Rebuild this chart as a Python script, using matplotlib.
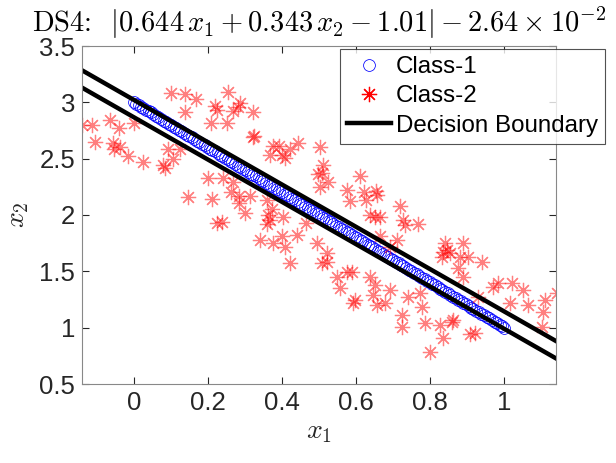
import numpy as np
import matplotlib.pyplot as plt

plt.rcParams['font.family'] = ['Liberation Sans', 'DejaVu Sans']
plt.rcParams['mathtext.fontset'] = 'cm'

# Class-1: points on the band (x1, x2)
c1_x1 = [0.000, 0.006, 0.013, 0.019, 0.024, 0.033, 0.040, 0.045, 0.052, 0.061,
         0.066, 0.072, 0.081, 0.088, 0.094, 0.101, 0.108, 0.115, 0.122, 0.127,
         0.136, 0.143, 0.149, 0.156, 0.163, 0.170, 0.176, 0.184, 0.191, 0.197,
         0.205, 0.211, 0.218, 0.226, 0.232, 0.239, 0.246, 0.253, 0.260, 0.266,
         0.274, 0.281, 0.287, 0.295, 0.302, 0.308, 0.316, 0.323, 0.329, 0.337,
         0.344, 0.350, 0.358, 0.365, 0.371, 0.379, 0.386, 0.392, 0.400, 0.407,
         0.413, 0.421, 0.428, 0.434, 0.442, 0.449, 0.455, 0.463, 0.470, 0.476,
         0.484, 0.491, 0.497, 0.505, 0.512, 0.518, 0.526, 0.533, 0.539, 0.547,
         0.554, 0.560, 0.568, 0.575, 0.581, 0.589, 0.596, 0.602, 0.610, 0.617,
         0.623, 0.631, 0.638, 0.644, 0.652, 0.659, 0.665, 0.673, 0.680, 0.686,
         0.694, 0.701, 0.707, 0.715, 0.722, 0.728, 0.736, 0.743, 0.749, 0.757,
         0.764, 0.770, 0.778, 0.785, 0.791, 0.799, 0.806, 0.812, 0.820, 0.827,
         0.833, 0.841, 0.848, 0.854, 0.862, 0.869, 0.875, 0.883, 0.890, 0.896,
         0.904, 0.911, 0.917, 0.925, 0.932, 0.938, 0.946, 0.953, 0.959, 0.967,
         0.974, 0.980, 0.988, 0.994, 1.000]
c1_x2 = [3.000, 2.988, 2.974, 2.962, 2.952, 2.934, 2.920, 2.910, 2.896, 2.878,
         2.868, 2.856, 2.838, 2.824, 2.812, 2.798, 2.784, 2.770, 2.756, 2.746,
         2.728, 2.714, 2.702, 2.688, 2.674, 2.660, 2.648, 2.632, 2.618, 2.606,
         2.590, 2.578, 2.564, 2.548, 2.536, 2.522, 2.508, 2.494, 2.480, 2.468,
         2.452, 2.438, 2.426, 2.410, 2.396, 2.384, 2.368, 2.354, 2.342, 2.326,
         2.312, 2.300, 2.284, 2.270, 2.258, 2.242, 2.228, 2.216, 2.200, 2.186,
         2.174, 2.158, 2.144, 2.132, 2.116, 2.102, 2.090, 2.074, 2.060, 2.048,
         2.032, 2.018, 2.006, 1.990, 1.976, 1.964, 1.948, 1.934, 1.922, 1.906,
         1.892, 1.880, 1.864, 1.850, 1.838, 1.822, 1.808, 1.796, 1.780, 1.766,
         1.754, 1.738, 1.724, 1.712, 1.696, 1.682, 1.670, 1.654, 1.640, 1.628,
         1.612, 1.598, 1.586, 1.570, 1.556, 1.544, 1.528, 1.514, 1.502, 1.486,
         1.472, 1.460, 1.444, 1.430, 1.418, 1.402, 1.388, 1.376, 1.360, 1.346,
         1.334, 1.318, 1.304, 1.292, 1.276, 1.262, 1.250, 1.234, 1.220, 1.208,
         1.192, 1.178, 1.166, 1.150, 1.136, 1.124, 1.108, 1.094, 1.082, 1.066,
         1.052, 1.040, 1.024, 1.012, 1.000]

# Class-2: scattered points
c2_x1 = [-0.141, -0.114, -0.065, -0.041, 0.000, -0.105, -0.057, -0.054, -0.038, -0.016,
         0.024, 0.078, 0.084, 0.092, 0.105, 0.124, 0.100, 0.138, 0.168, 0.138,
         0.208, 0.224, 0.219, 0.251, 0.254, 0.268, 0.286, 0.281, 0.322, 0.322,
         0.324, 0.200, 0.241, 0.268, 0.146, 0.211, 0.262, 0.284, 0.284, 0.314,
         0.224, 0.238, 0.376, 0.392, 0.368, 0.400, 0.408, 0.422, 0.443, 0.503,
         0.511, 0.497, 0.508, 0.524, 0.503, 0.611, 0.576, 0.584, 0.622, 0.654,
         0.657, 0.627, 0.719, 0.638, 0.651, 0.665, 0.727, 0.732, 0.768, 0.359,
         0.300, 0.362, 0.373, 0.403, 0.368, 0.359, 0.465, 0.441, 0.400, 0.408,
         0.341, 0.376, 0.495, 0.522, 0.508, 0.522, 0.422, 0.549, 0.557, 0.576,
         0.589, 0.638, 0.651, 0.646, 0.692, 0.657, 0.678, 0.597, 0.592, 0.724,
         0.724, 0.665, 0.711, 0.692, 0.741, 0.773, 0.778, 0.786, 0.827, 0.859,
         0.862, 0.835, 0.908, 0.922, 0.800, 0.841, 0.846, 0.835, 0.854, 0.832,
         0.881, 0.903, 0.889, 0.876, 0.889, 0.941, 0.970, 0.984, 1.022, 1.051,
         0.930, 1.016, 1.065, 1.111, 1.105, 1.103, 1.143]
c2_x2 = [2.80, 2.80, 2.84, 2.77, 2.82, 2.65, 2.64, 2.59, 2.60, 2.52,
         2.47, 2.44, 2.42, 2.59, 2.50, 2.59, 3.08, 3.07, 3.03, 2.91,
         2.82, 2.93, 2.97, 2.82, 3.09, 2.92, 2.99, 2.96, 2.91, 2.69,
         2.70, 2.33, 2.33, 2.29, 2.16, 2.14, 2.20, 2.17, 2.11, 2.17,
         1.93, 1.94, 2.61, 2.61, 2.53, 2.53, 2.51, 2.59, 2.64, 2.60,
         2.44, 2.36, 2.37, 2.29, 2.25, 2.35, 2.22, 2.12, 2.20, 2.21,
         2.18, 2.13, 2.08, 2.00, 1.98, 1.98, 1.96, 1.91, 1.92, 2.13,
         2.02, 2.00, 2.05, 1.98, 1.96, 1.92, 1.93, 1.82, 1.81, 1.72,
         1.78, 1.75, 1.75, 1.66, 1.57, 1.58, 1.57, 1.45, 1.35, 1.49,
         1.49, 1.45, 1.38, 1.29, 1.33, 1.20, 1.22, 1.25, 1.22, 1.11,
         1.01, 1.81, 1.78, 1.72, 1.27, 1.31, 1.18, 1.04, 1.02, 1.05,
         1.07, 0.91, 0.94, 0.95, 0.78, 1.75, 1.69, 1.67, 1.66, 1.63,
         1.63, 1.63, 1.75, 1.53, 1.45, 1.58, 1.36, 1.40, 1.40, 1.33,
         1.27, 1.22, 1.20, 1.25, 1.14, 1.01, 1.31]

# decision boundary |w1 x1 + w2 x2 + b| = m
w1, w2, b, m = 0.644, 0.343, -1.01, 2.64e-2

xlim = (-0.14, 1.14)
ylim = (0.5, 3.5)
xticks = [0, 0.2, 0.4, 0.6, 0.8, 1]
xticklabels = ['0', '0.2', '0.4', '0.6', '0.8', '1']
yticks = [0.5, 1, 1.5, 2, 2.5, 3, 3.5]
yticklabels = ['0.5', '1', '1.5', '2', '2.5', '3', '3.5']

fig = plt.figure(figsize=(6.16, 4.63), dpi=100)
ax = fig.add_axes([82/616, 1-384/463, (556-82)/616, (384-46)/463])

ax.plot(c1_x1, c1_x2, 'o', ms=8.5, mfc='none', mec='blue', mew=0.55, label='Class-1')
ax.plot(c2_x1, c2_x2, ls='none', marker=(8, 2, 0), ms=11, color='red', alpha=0.5,
        mew=0.9, label='Class-2')
xx = np.array(xlim)
ax.plot(xx, (m - b - w1*xx)/w2, color='black', lw=3.2, label='Decision Boundary')
ax.plot(xx, (-m - b - w1*xx)/w2, color='black', lw=3.2)

ax.set_xlim(xlim)
ax.set_ylim(ylim)
ax.set_xticks(xticks, xticklabels)
ax.set_yticks(yticks, yticklabels)
ax.tick_params(direction='in', top=True, right=True, length=5, width=0.8,
               labelsize=18.5, colors='#262626', pad=5)
for s in ax.spines.values():
    s.set_color('#888888')
    s.set_linewidth(0.8)

ax.set_xlabel(r'$x_1$', fontsize=20, color='#262626', labelpad=3)
ax.set_ylabel(r'$x_2$', fontsize=20, color='#262626', labelpad=6)
ax.set_title(r'DS4:  $|0.644\,x_1 + 0.343\,x_2 - 1.01| - 2.64\times10^{-2}$',
             fontfamily='cmr10', fontsize=20.5, pad=10)

leg = ax.legend(loc='upper left', bbox_to_anchor=(340/616, 1-49/463),
                bbox_transform=fig.transFigure, fontsize=17.4, frameon=True,
                fancybox=False, edgecolor='#262626', handlelength=1.8,
                borderpad=0.3, labelspacing=0.3, handletextpad=0.2,
                borderaxespad=0)
leg.get_frame().set_linewidth(0.8)
for lh in leg.legend_handles:
    lh.set_alpha(1)

fig.savefig('out.png', dpi=100)
